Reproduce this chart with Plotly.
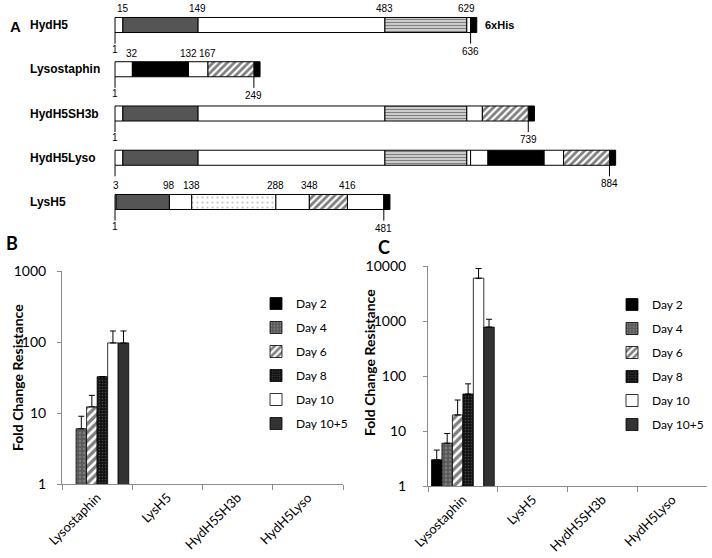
import plotly.graph_objects as go

# ---------------- Panel A data (amino-acid positions) ----------------
constructs = ["HydH5", "Lysostaphin", "HydH5SH3b", "HydH5Lyso", "LysH5"]
construct_lengths = [636, 249, 739, 884, 481]
his_tag_len = 11
hydh5_segments = [(1, 15, "none"), (15, 149, "chap"), (149, 483, "none"),
                  (483, 629, "amidase"), (629, 636, "none")]
lysostaphin_segments = [(1, 32, "none"), (32, 132, "endo"), (132, 167, "none"),
                        (167, 249, "sh3b")]
hydh5sh3b_segments = [(1, 15, "none"), (15, 149, "chap"), (149, 483, "none"),
                      (483, 629, "amidase"), (629, 657, "none"), (657, 739, "sh3b")]
hydh5lyso_segments = [(1, 15, "none"), (15, 149, "chap"), (149, 483, "none"),
                      (483, 629, "amidase"), (629, 636, "none"), (636, 667, "none"),
                      (667, 767, "endo"), (767, 802, "none"), (802, 884, "sh3b")]
lysh5_segments = [(1, 3, "none"), (3, 98, "chap"), (98, 138, "none"),
                  (138, 288, "cbd"), (288, 348, "none"), (348, 416, "sh3b"),
                  (416, 481, "none")]
top_labels = [[15, 149, 483, 629], [32, 132, 167], [], [], [3, 98, 138, 288, 348, 416]]
start_label_shown = [True, True, True, False, True]

# ---------------- Panels B / C data ----------------
categories = ["Lysostaphin", "LysH5", "HydH5SH3b", "HydH5Lyso"]
days = ["Day 2", "Day 4", "Day 6", "Day 8", "Day 10", "Day 10+5"]
b_values = [[1, 1, 1, 1], [6, 1, 1, 1], [12.2, 1, 1, 1], [32.5, 1, 1, 1],
            [97, 1, 1, 1], [97, 1, 1, 1]]
b_errors = [[0, 0, 0, 0], [3, 0, 0, 0], [5.5, 0, 0, 0],
            [0, 0, 0, 0], [46, 0, 0, 0], [46, 0, 0, 0]]
c_values = [[3.0, 1, 1, 1], [6, 1, 1, 1], [19.6, 1, 1, 1], [47, 1, 1, 1],
            [6000, 1, 1, 1], [775, 1, 1, 1]]
c_errors = [[1.5, 0, 0, 0], [3, 0, 0, 0], [17, 0, 0, 0],
            [25, 0, 0, 0], [3000, 0, 0, 0], [300, 0, 0, 0]]

# ---------------- styles ----------------
domain_styles = {
    "none": dict(color="white"),
    "chap": dict(color="#555555"),
    "endo": dict(color="black"),
    "his": dict(color="black"),
    "amidase": dict(color="white", pattern=dict(shape="-", fgcolor="black", bgcolor="white",
                                                size=3, solidity=0.6)),
    "sh3b": dict(color="white", pattern=dict(shape="/", fgcolor="black", bgcolor="white",
                                             size=5, solidity=0.55)),
    "cbd": dict(color="white", pattern=dict(shape=".", fgcolor="#8a8a8a", bgcolor="white",
                                            size=5, solidity=0.15)),
}
day_styles = [
    dict(color="black"),
    dict(color="#5a5a5a", pattern=dict(shape=".", fgcolor="#a0a0a0", bgcolor="#5a5a5a",
                                       size=4, solidity=0.3)),
    dict(color="white", pattern=dict(shape="/", fgcolor="black", bgcolor="white",
                                     size=6, solidity=0.55)),
    dict(color="#111111", pattern=dict(shape=".", fgcolor="#777777", bgcolor="#111111",
                                       size=3, solidity=0.25)),
    dict(color="white"),
    dict(color="#333333"),
]

fig = go.Figure()

# ---------------- Panel A ----------------
all_segments = [hydh5_segments, lysostaphin_segments, hydh5sh3b_segments,
                hydh5lyso_segments, lysh5_segments]
rows_by_type = {}
for r, (segs, length) in enumerate(zip(all_segments, construct_lengths)):
    for (s, e, t) in segs + [(length, length + his_tag_len, "his")]:
        rows_by_type.setdefault(t, []).append((r, s, e))

BAR_W = 0.34
for t, items in rows_by_type.items():
    st = domain_styles[t]
    marker = dict(color=st["color"], line=dict(color="black", width=1))
    if "pattern" in st:
        marker["pattern"] = st["pattern"]
    fig.add_trace(go.Bar(
        orientation="h", y=[i[0] for i in items], x=[i[2] - i[1] for i in items],
        base=[i[1] for i in items], width=BAR_W, offset=-BAR_W / 2,
        marker=marker, showlegend=False, hoverinfo="skip", xaxis="x", yaxis="y"))

tick_x, tick_y = [], []
for r, length in enumerate(construct_lengths):
    for pos in (1, length):
        tick_x += [pos, pos, None]
        tick_y += [r + BAR_W / 2, r + 0.42, None]
fig.add_trace(go.Scatter(x=tick_x, y=tick_y, mode="lines", line=dict(color="black", width=1),
                         showlegend=False, hoverinfo="skip", xaxis="x", yaxis="y"))

ann = []
fA = dict(family="Liberation Sans, Arial", size=10, color="black")
for r, name in enumerate(constructs):
    ann.append(dict(text="<b>%s</b>" % name, x=28 / 712, xref="paper", y=r, yref="y",
                    xanchor="left", yanchor="middle", showarrow=False,
                    font=dict(family="Liberation Sans, Arial", size=12, color="black")))
    for v in top_labels[r]:
        ann.append(dict(text=str(v), x=v, y=r - BAR_W / 2, xref="x", yref="y",
                        xanchor="center", yanchor="bottom", yshift=1, showarrow=False, font=fA))
    if start_label_shown[r]:
        ann.append(dict(text="1", x=1, y=r + 0.38, xref="x", yref="y", xanchor="center",
                        yanchor="top", showarrow=False, font=fA))
    ann.append(dict(text=str(construct_lengths[r]), x=construct_lengths[r], y=r + 0.42,
                    xref="x", yref="y", xanchor="center", yanchor="top", showarrow=False, font=fA))
ann.append(dict(text="<b>6xHis</b>", x=construct_lengths[0] + his_tag_len, y=0, xref="x",
                yref="y", xanchor="left", yanchor="middle", xshift=6, showarrow=False,
                font=dict(family="Liberation Sans, Arial", size=11, color="black")))
ann.append(dict(text="<b>A</b>", x=8 / 712, y=1 - 27 / 558, xref="paper", yref="paper",
                xanchor="left", yanchor="middle", showarrow=False,
                font=dict(family="Liberation Sans, Arial", size=15, color="black")))

# ---------------- Panels B / C ----------------
FONT = "Lato"
for vals, errs, xa, ya, lg in ((b_values, b_errors, "x2", "y2", "legend"),
                               (c_values, c_errors, "x3", "y3", "legend2")):
    for d, name in enumerate(days):
        st = day_styles[d]
        marker = dict(color=st["color"], line=dict(color="black", width=0.8))
        if "pattern" in st:
            marker["pattern"] = st["pattern"]
        # a fold change of 1 sits on the log axis floor: nothing to draw
        shown = [v if v > 1 else None for v in vals[d]]
        fig.add_trace(go.Bar(
            x=categories, y=shown, name=name, marker=marker, xaxis=xa, yaxis=ya,
            legend=lg, legendgroup=lg + name,
            error_y=dict(type="data", array=errs[d], arrayminus=[0] * len(errs[d]),
                         symmetric=False, color="black", thickness=1, width=3)))

axis_line = "#8c8c8c"
common_x = dict(type="category", showline=True, linecolor=axis_line, linewidth=1,
                ticks="outside", tickson="boundaries", ticklen=5, tickcolor=axis_line,
                tickangle=-45, showgrid=False, zeroline=False, automargin=False,
                tickfont=dict(family=FONT, size=13, color="black"))
common_y = dict(type="log", showline=True, linecolor=axis_line, linewidth=1, ticks="outside",
                ticklen=4, tickcolor=axis_line, dtick=1, tickformat="d", showgrid=False,
                zeroline=False, automargin=False,
                tickfont=dict(family=FONT, size=14, color="black"))

for txt, x, y in (("Fold Change Resistance", 17, 378), ("Fold Change Resistance", 369, 363)):
    ann.append(dict(text="<b>%s</b>" % txt, x=x / 712, y=1 - y / 558, xref="paper",
                    yref="paper", textangle=-90, showarrow=False, xanchor="center",
                    yanchor="middle", font=dict(family=FONT, size=14, color="black")))
for txt, x, y in (("B", 12, 243), ("C", 384, 247)):
    ann.append(dict(text="<b>%s</b>" % txt, x=x / 712, y=1 - y / 558, xref="paper",
                    yref="paper", showarrow=False, xanchor="center", yanchor="middle",
                    font=dict(family=FONT, size=18, color="black")))

legend_common = dict(font=dict(family=FONT, size=12, color="black"), bgcolor="rgba(0,0,0,0)",
                     traceorder="grouped", tracegroupgap=5, itemwidth=30,
                     xanchor="left", yanchor="top")

fig.update_layout(
    width=712, height=558, margin=dict(l=0, r=0, t=0, b=0, autoexpand=False),
    paper_bgcolor="white", plot_bgcolor="white",
    barmode="group", bargap=0.1, bargroupgap=0,
    xaxis=dict(domain=[0, 1], range=[-204.4, 1067.1], visible=False, anchor="y",
               automargin=False),
    yaxis=dict(domain=[1 - 230 / 558, 1], range=[4.633, -0.565], visible=False, anchor="x",
               automargin=False),
    xaxis2=dict(common_x, domain=[62 / 712, 343 / 712], anchor="y2"),
    yaxis2=dict(common_y, domain=[1 - 484 / 558, 1 - 271 / 558], range=[0, 3], anchor="x2",
                ticklabelstandoff=8),
    xaxis3=dict(common_x, domain=[428 / 712, 707 / 712], anchor="y3"),
    yaxis3=dict(common_y, domain=[1 - 486 / 558, 1 - 266 / 558], range=[0, 4], anchor="x3",
                ticklabelstandoff=14),
    legend=dict(legend_common, x=256 / 712, y=1 - 289 / 558),
    legend2=dict(legend_common, x=612 / 712, y=1 - 290 / 558),
    annotations=ann,
)

fig.write_html("out.html", config={"displayModeBar": False},
               post_script="document.body.style.margin='0';document.body.style.overflow='hidden';")
